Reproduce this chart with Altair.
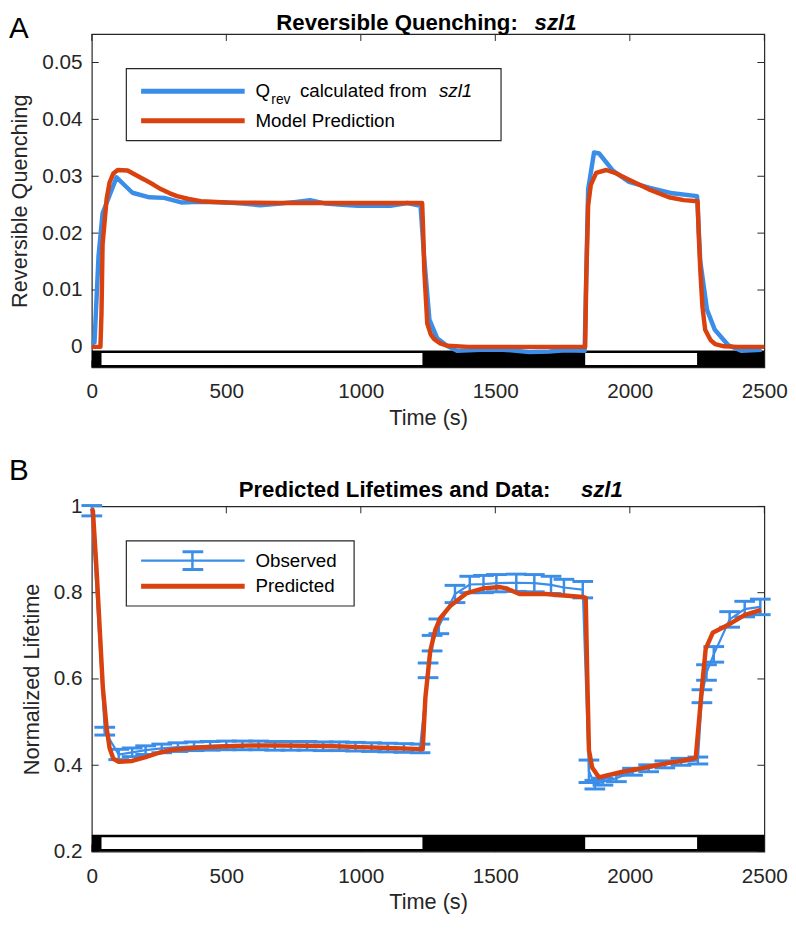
import altair as alt
import pandas as pd

F = "Liberation Sans"
BLUE = "#3a8de8"
RED = "#d9410f"
INK = "#262626"

# ---------------- shared axis values ----------------
xticks = [0, 500, 1000, 1500, 2000, 2500]
yticks_a = [0, 0.01, 0.02, 0.03, 0.04, 0.05]
yticks_b = [0.2, 0.4, 0.6, 0.8, 1.0]

# light / dark periods (s)
light_start = [36, 1834]
light_end = [1229, 2250]

# ---------------- panel A data ----------------
qrev_t = [0, 10, 25, 40, 92, 120, 151, 214, 269, 332, 400, 504, 560, 627, 700, 760,
          811, 870, 930, 989, 1050, 1110, 1173, 1222, 1235, 1255, 1284, 1320, 1358,
          1444, 1530, 1627, 1700, 1760, 1832, 1845, 1867, 1886, 1937, 1997, 2071,
          2159, 2250, 2262, 2287, 2316, 2366, 2416, 2490]
qrev_v = [0.0006, 0.0008, 0.016, 0.0235, 0.0298, 0.0285, 0.0271, 0.0263, 0.0262,
          0.0254, 0.0255, 0.0254, 0.0252, 0.0249, 0.0252, 0.0255, 0.0258, 0.0252,
          0.0250, 0.0248, 0.0248, 0.0248, 0.0253, 0.0248, 0.0160, 0.0048, 0.0015,
          0.0002, -0.0007, -0.0005, -0.0005, -0.0009, -0.0008, -0.0006, -0.0007,
          0.0277, 0.0342, 0.0340, 0.0310, 0.0290, 0.0280, 0.0270, 0.0265, 0.0150,
          0.0065, 0.0030, 0.0003, -0.0007, -0.0005]

model_t = [0, 32, 36, 40, 55, 66, 80, 96, 133, 160, 196, 230, 258, 290, 317, 360,
           405, 500, 700, 1000, 1228, 1232, 1236, 1247, 1260, 1272, 1295, 1321, 1400,
           1834, 1838, 1845, 1855, 1875, 1912, 1950, 1997, 2071, 2145, 2200, 2252,
           2256, 2262, 2270, 2280, 2300, 2317, 2350, 2400, 2500]
model_v = [0.0, 0.0, 0.006, 0.018, 0.026, 0.0289, 0.0305, 0.0311, 0.0310, 0.0303,
           0.0294, 0.0285, 0.0277, 0.0270, 0.0265, 0.0260, 0.0256, 0.0254, 0.0253,
           0.0253, 0.0253, 0.0200, 0.0134, 0.0041, 0.0022, 0.0014, 0.0006, 0.0002,
           0.0, 0.0, 0.012, 0.0248, 0.0285, 0.0306, 0.0311, 0.0305, 0.0294, 0.0277,
           0.0263, 0.0258, 0.0256, 0.0200, 0.0134, 0.0070, 0.0030, 0.0012, 0.0005,
           0.0001, 0.0, 0.0]

# ---------------- panel B data ----------------
pred_t = [0, 4, 18, 41, 55, 66, 80, 100, 150, 200, 250, 300, 400, 500, 600, 700, 800,
          900, 1000, 1100, 1200, 1230, 1240, 1258, 1277, 1295, 1332, 1394, 1456, 1517,
          1541, 1590, 1688, 1825, 1836, 1842, 1848, 1860, 1885, 1973, 2050, 2100, 2150,
          2200, 2245, 2268, 2282, 2308, 2364, 2426, 2488]
pred_v = [0.995, 0.99, 0.85, 0.58, 0.487, 0.44, 0.415, 0.408, 0.41, 0.419, 0.429,
          0.436, 0.441, 0.444, 0.446, 0.446, 0.445, 0.444, 0.442, 0.44, 0.438, 0.437,
          0.557, 0.665, 0.714, 0.741, 0.769, 0.799, 0.81, 0.813, 0.81, 0.797, 0.797,
          0.79, 0.788, 0.6, 0.435, 0.395, 0.372, 0.385, 0.394, 0.40, 0.406, 0.411,
          0.417, 0.58, 0.67, 0.707, 0.725, 0.748, 0.76]

obs_t = [0, 48, 100, 150, 200, 260, 320, 380, 440, 500, 560, 620, 680, 740, 800, 860,
         920, 980, 1040, 1100, 1160, 1220, 1250, 1265, 1290, 1350, 1405, 1456, 1504,
         1578, 1645, 1707, 1755, 1825, 1848, 1870, 1900, 1950, 2010, 2070, 2130, 2190,
         2253, 2268, 2285, 2312, 2371, 2427, 2485]
obs_v = [0.99, 0.479, 0.425, 0.43, 0.435, 0.439, 0.442, 0.444, 0.445, 0.446, 0.446,
         0.446, 0.445, 0.445, 0.445, 0.444, 0.444, 0.443, 0.442, 0.441, 0.44, 0.439,
         0.62, 0.683, 0.722, 0.797, 0.819, 0.82, 0.822, 0.823, 0.822, 0.818, 0.812,
         0.807, 0.386, 0.355, 0.362, 0.37, 0.385, 0.393, 0.402, 0.408, 0.411, 0.56,
         0.615, 0.657, 0.738, 0.762, 0.767]
obs_err = [0.012, 0.009, 0.012, 0.01, 0.01, 0.01, 0.01, 0.01, 0.01, 0.01, 0.01, 0.01,
           0.01, 0.01, 0.01, 0.01, 0.01, 0.01, 0.01, 0.01, 0.01, 0.01, 0.017, 0.018,
           0.017, 0.02, 0.019, 0.02, 0.02, 0.02, 0.02, 0.02, 0.019, 0.019, 0.026, 0.01,
           0.008, 0.008, 0.008, 0.008, 0.008, 0.008, 0.008, 0.015, 0.018, 0.018, 0.018,
           0.018, 0.018]

# ---------------- layout constants ----------------
W = 682
HA = 338
HB = 350
STRIP = 17
TICK = 7
CAP_HALF = 38.5  # seconds, half width of error-bar caps

XS = alt.Scale(domain=[0, 2500], nice=False, zero=False)
YSA = alt.Scale(domain=[-0.0036, 0.055], nice=False, zero=False)
YSB = alt.Scale(domain=[0.2, 1.0], nice=False, zero=False)

axis_common = dict(tickSize=0, domain=False, grid=False, labelFont=F, labelFontSize=21,
                   labelColor=INK, titleFont=F, titleFontSize=22, titleFontWeight="normal",
                   titleColor=INK, labelFlush=False, labelOverlap=False)
XAX = alt.Axis(values=xticks, title="Time (s)", format="d", labelPadding=14, titlePadding=6,
               **axis_common)
YAXA = alt.Axis(values=yticks_a, title="Reversible Quenching", format="~g", labelPadding=10,
                titlePadding=10, **axis_common)
YAXB = alt.Axis(values=yticks_b, title="Normalized Lifetime", format="~g", labelPadding=10,
                titlePadding=10, **axis_common)

one = pd.DataFrame({"k": [0]})


def X(field):
    return alt.X(field, type="quantitative", scale=XS, axis=XAX)


def frame_ticks(H, ys, yax, yt):
    dx = pd.DataFrame({"t": xticks})
    dy = pd.DataFrame({"v": yt})
    rule = dict(color=INK, strokeWidth=1)
    bottom = alt.Chart(dx).mark_rule(**rule).encode(x=X("t"), y=alt.value(H), y2=alt.value(H - TICK))
    top = alt.Chart(dx).mark_rule(**rule).encode(x=X("t"), y=alt.value(0), y2=alt.value(TICK))
    Y = alt.Y("v", type="quantitative", scale=ys, axis=yax)
    left = alt.Chart(dy).mark_rule(**rule).encode(y=Y, x=alt.value(0), x2=alt.value(TICK))
    right = alt.Chart(dy).mark_rule(**rule).encode(y=Y, x=alt.value(W), x2=alt.value(W - TICK))
    return [bottom, top, left, right]


def strip(H):
    dark = alt.Chart(pd.DataFrame({"s": [0], "e": [2500]})).mark_rect(color="black").encode(
        x=X("s"), x2="e", y=alt.value(H), y2=alt.value(H - STRIP))
    light = alt.Chart(pd.DataFrame({"s": light_start, "e": light_end})).mark_rect(
        color="white").encode(x=X("s"), x2="e", y=alt.value(H - 2.5), y2=alt.value(H - STRIP + 2.5))
    return [dark, light]


def text(t, x, y, size=18, weight="normal", style="normal", align="left", color="black"):
    return alt.Chart(one).mark_text(text=t, font=F, fontSize=size, fontWeight=weight,
                                    fontStyle=style, align=align, baseline="alphabetic",
                                    color=color).encode(x=alt.value(x), y=alt.value(y))


def hline(x1, x2, y, color, width):
    return alt.Chart(one).mark_rule(color=color, strokeWidth=width).encode(
        x=alt.value(x1), x2=alt.value(x2), y=alt.value(y))


def box(x1, x2, y1, y2):
    return alt.Chart(one).mark_rect(fill="white", stroke=INK, strokeWidth=1.2).encode(
        x=alt.value(x1), x2=alt.value(x2), y=alt.value(y1), y2=alt.value(y2))


LEG = 19
TSZ = 22.5

# ---------------- panel A ----------------
dfA_blue = pd.DataFrame({"t": qrev_t, "v": qrev_v})
dfA_red = pd.DataFrame({"t": model_t, "v": model_v})
YA = alt.Y("v", type="quantitative", scale=YSA, axis=YAXA)

blueA = alt.Chart(dfA_blue).mark_line(color=BLUE, strokeWidth=4.5, strokeJoin="round").encode(x=X("t"), y=YA)
redA = alt.Chart(dfA_red).mark_line(color=RED, strokeWidth=4.5, strokeJoin="round").encode(x=X("t"), y=YA)

legendA = [
    box(35, 415, 35, 108),
    hline(50, 155, 58, BLUE, 5),
    hline(50, 155, 88, RED, 5),
    text("Q", 166, 64, LEG),
    text("rev", 182, 71, 14),
    text("calculated from", 211, 64, LEG),
    text("szl1", 352, 64, LEG, style="italic"),
    text("Model Prediction", 166, 94, LEG),
]

titleA = [
    text("Reversible Quenching:", 432, -4, TSZ, weight="bold", align="right"),
    text("szl1", 449, -4, TSZ, weight="bold", style="italic"),
    text("A", -84, 4, 30),
]

panelA = alt.layer(
    *frame_ticks(HA, YSA, YAXA, yticks_a), *strip(HA), blueA, redA, *legendA, *titleA
).properties(width=W, height=HA)

# ---------------- panel B ----------------
dfB_obs = pd.DataFrame({"t": obs_t, "v": obs_v, "err": obs_err})
dfB_pred = pd.DataFrame({"t": pred_t, "v": pred_v})
YB = alt.Y("v", type="quantitative", scale=YSB, axis=YAXB)

obs_base = alt.Chart(dfB_obs).transform_calculate(
    lo="datum.v - datum.err", hi="datum.v + datum.err",
    cl=f"datum.t - {CAP_HALF}", cr=f"datum.t + {CAP_HALF}")
obs_line = obs_base.mark_line(color=BLUE, strokeWidth=2.2).encode(x=X("t"), y=YB)
obs_vert = obs_base.mark_rule(color=BLUE, strokeWidth=2.5).encode(
    x=X("t"), y=alt.Y("lo", type="quantitative", scale=YSB, axis=YAXB), y2="hi")
obs_cap_lo = obs_base.mark_rule(color=BLUE, strokeWidth=3).encode(
    x=X("cl"), x2="cr", y=alt.Y("lo", type="quantitative", scale=YSB, axis=YAXB))
obs_cap_hi = obs_base.mark_rule(color=BLUE, strokeWidth=3).encode(
    x=X("cl"), x2="cr", y=alt.Y("hi", type="quantitative", scale=YSB, axis=YAXB))
predB = alt.Chart(dfB_pred).mark_line(color=RED, strokeWidth=4.5, strokeJoin="round").encode(x=X("t"), y=YB)

legendB = [
    box(35, 266, 35, 101),
    hline(50, 155, 55, BLUE, 2.5),
    alt.Chart(one).mark_rule(color=BLUE, strokeWidth=2.5).encode(
        x=alt.value(102), y=alt.value(46), y2=alt.value(64)),
    hline(92, 113, 46, BLUE, 3),
    hline(92, 113, 64, BLUE, 3),
    hline(50, 155, 81, RED, 5),
    text("Observed", 166, 61, LEG),
    text("Predicted", 166, 87, LEG),
]

titleB = [
    text("Predicted Lifetimes and Data:", 465, -10, TSZ, weight="bold", align="right"),
    text("szl1", 496, -10, TSZ, weight="bold", style="italic"),
    text("B", -84, -27, 30),
]

panelB = alt.layer(
    *frame_ticks(HB, YSB, YAXB, yticks_b), *strip(HB), obs_line, obs_vert, obs_cap_lo,
    obs_cap_hi, predB, *legendB, *titleB
).properties(width=W, height=HB)

chart = alt.vconcat(panelA, panelB, spacing=26).properties(
    padding={"left": 0, "top": -3, "right": 0, "bottom": 0},
    background="white",
).configure_view(stroke=INK, strokeWidth=1.2)

chart.save("out.html", embed_options={"renderer": "svg", "actions": False})
